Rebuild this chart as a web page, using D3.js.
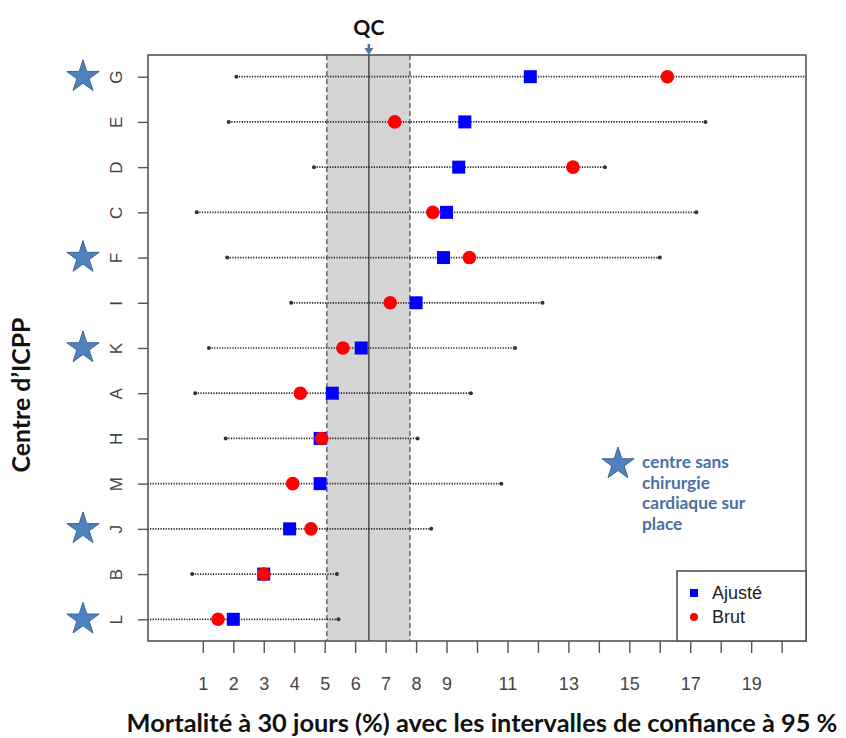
<!DOCTYPE html>
<html lang="fr">
<head>
<meta charset="utf-8">
<script src="https://cdn.jsdelivr.net/npm/d3@7/dist/d3.min.js"></script>
<style>
  html, body { margin: 0; padding: 0; background: #fff; }
  svg { display: block; }
</style>
</head>
<body>
<svg id="chart" width="846" height="738"></svg>
<script>
"use strict";

// ── Data (top row first) ─────────────────────────────────────────────────────
const centres  = ["G", "E", "D", "C", "F", "I", "K", "A", "H", "M", "J", "B", "L"];
const ajuste   = [11.75, 9.6, 9.4, 9.0, 8.9, 8.0, 6.2, 5.25, 4.85, 4.85, 3.85, 3.0, 2.0];
const brut     = [16.25, 7.3, 13.15, 8.55, 9.75, 7.15, 5.6, 4.2, 4.9, 3.95, 4.55, 3.0, 1.5];
const ciLow    = [2.1, 1.85, 4.65, 0.8, 1.8, 3.9, 1.2, 0.75, 1.75, -1.5, -1.5, 0.65, -1.5];
const ciHigh   = [22.0, 17.5, 14.2, 17.2, 16.0, 12.15, 11.25, 9.8, 8.05, 10.8, 8.5, 5.4, 5.45];
const sansChir = ["G", "F", "K", "J", "L"];
const xTicks   = d3.range(1, 21);
const xLabels  = [1, 2, 3, 4, 5, 6, 7, 8, 9, 11, 13, 15, 17, 19];
const qc       = { low: 5.07, mean: 6.45, high: 7.8 };

const rows = centres.map((c, i) => ({
  centre: c,
  pos: centres.length - i,
  ajuste: ajuste[i],
  brut: brut[i],
  lo: ciLow[i],
  hi: ciHigh[i]
}));

// ── Layout ───────────────────────────────────────────────────────────────────
const P = { left: 148, right: 806, top: 55, bottom: 641 };
const svg = d3.select("#chart");

const x = d3.scaleLinear().domain([-0.8, 20.8]).range([P.left, P.right]);
const y = d3.scaleLinear().domain([0.52, centres.length + 0.48]).range([P.bottom, P.top]);

const STAR_FILL = "#4f81bd";
const STAR_LINE = "#3b6796";

svg.append("defs").append("clipPath").attr("id", "plotClip")
  .append("rect")
  .attr("x", P.left).attr("y", P.top)
  .attr("width", P.right - P.left).attr("height", P.bottom - P.top);

// shrink/grow a text so it spans the width measured on the reference
function fitWidth(sel, target) {
  const fs = parseFloat(sel.attr("font-size"));
  const w = sel.node().getComputedTextLength();
  if (w > 0) sel.attr("font-size", (fs * target / w).toFixed(2));
}

// ── QC band ──────────────────────────────────────────────────────────────────
const band = svg.append("g");
band.append("rect")
  .attr("x", x(qc.low)).attr("y", P.top)
  .attr("width", x(qc.high) - x(qc.low))
  .attr("height", P.bottom - P.top)
  .attr("fill", "#d4d4d4");

[qc.low, qc.high].forEach(v => {
  band.append("line")
    .attr("x1", x(v)).attr("x2", x(v))
    .attr("y1", P.top).attr("y2", P.bottom)
    .attr("stroke", "#555").attr("stroke-width", 1.3)
    .attr("stroke-dasharray", "5,3");
});

band.append("line")
  .attr("x1", x(qc.mean)).attr("x2", x(qc.mean))
  .attr("y1", P.top).attr("y2", P.bottom)
  .attr("stroke", "#444").attr("stroke-width", 1.4);

// ── Confidence intervals ────────────────────────────────────────────────────
const ci = svg.append("g").attr("clip-path", "url(#plotClip)");

ci.selectAll(".ci-line")
  .data(rows)
  .join("line")
  .attr("class", "ci-line")
  .attr("x1", d => x(d.lo)).attr("x2", d => x(d.hi))
  .attr("y1", d => y(d.pos)).attr("y2", d => y(d.pos))
  .attr("stroke", "#222").attr("stroke-width", 1.7)
  .attr("stroke-dasharray", "1.2,1.4");

const ends = rows.flatMap(d => [{ v: d.lo, pos: d.pos }, { v: d.hi, pos: d.pos }]);
ci.selectAll(".ci-end")
  .data(ends)
  .join("circle")
  .attr("class", "ci-end")
  .attr("cx", d => x(d.v)).attr("cy", d => y(d.pos))
  .attr("r", 2)
  .attr("fill", "#333");

// ── Points ───────────────────────────────────────────────────────────────────
const SQ = 13;
svg.append("g").selectAll("rect")
  .data(rows)
  .join("rect")
  .attr("x", d => x(d.ajuste) - SQ / 2)
  .attr("y", d => y(d.pos) - SQ / 2)
  .attr("width", SQ).attr("height", SQ)
  .attr("fill", "#0000ff");

svg.append("g").selectAll("circle")
  .data(rows)
  .join("circle")
  .attr("cx", d => x(d.brut))
  .attr("cy", d => y(d.pos))
  .attr("r", 6.8)
  .attr("fill", "#ff0000");

// ── Frame ────────────────────────────────────────────────────────────────────
svg.append("rect")
  .attr("x", P.left).attr("y", P.top)
  .attr("width", P.right - P.left).attr("height", P.bottom - P.top)
  .attr("fill", "none").attr("stroke", "#555").attr("stroke-width", 1.6);

// ── X axis ───────────────────────────────────────────────────────────────────
const xAxis = svg.append("g")
  .attr("transform", `translate(0,${P.bottom})`)
  .call(d3.axisBottom(x)
    .tickValues(xTicks)
    .tickSize(12)
    .tickPadding(24)
    .tickFormat(d => xLabels.includes(d) ? d : ""));

xAxis.select(".domain").remove();
xAxis.selectAll(".tick line").attr("stroke", "#555").attr("stroke-width", 1.4);
xAxis.selectAll(".tick text")
  .attr("font-family", "'Liberation Sans', Arial, sans-serif")
  .attr("font-size", 18)
  .attr("fill", "#444");

// ── Y axis ───────────────────────────────────────────────────────────────────
const yAxis = svg.append("g")
  .attr("transform", `translate(${P.left},0)`)
  .call(d3.axisLeft(y)
    .tickValues(rows.map(d => d.pos))
    .tickSize(10)
    .tickPadding(0)
    .tickFormat(p => centres[centres.length - p]));

yAxis.select(".domain").remove();
yAxis.selectAll(".tick line").attr("stroke", "#555").attr("stroke-width", 1.4);
yAxis.selectAll(".tick text")
  .attr("x", null).attr("dy", null)
  .attr("transform", "translate(-32,0) rotate(-90)")
  .attr("text-anchor", "middle")
  .attr("dominant-baseline", "central")
  .attr("font-family", "'Liberation Sans', Arial, sans-serif")
  .attr("font-size", 17)
  .attr("fill", "#444");

// ── Stars: centres sans chirurgie ───────────────────────────────────────────
const star = d3.symbol().type(d3.symbolStar);
const starSize = R => R * R / 0.8908;

svg.append("g").selectAll("path")
  .data(rows.filter(d => sansChir.includes(d.centre)))
  .join("path")
  .attr("d", star.size(starSize(17))())
  .attr("transform", d => `translate(83,${y(d.pos)})`)
  .attr("fill", STAR_FILL)
  .attr("stroke", STAR_LINE).attr("stroke-width", 1);

// ── Titles ───────────────────────────────────────────────────────────────────
const qcLabel = svg.append("text")
  .attr("x", x(qc.mean)).attr("y", 35)
  .attr("text-anchor", "middle")
  .attr("font-family", "Lato, 'Open Sans', sans-serif")
  .attr("font-weight", "bold")
  .attr("font-size", 21)
  .attr("fill", "#111")
  .text("QC");
fitWidth(qcLabel, 31);

// small arrow pointing into the plot at QC mean
svg.append("line")
  .attr("x1", x(qc.mean)).attr("x2", x(qc.mean))
  .attr("y1", 44).attr("y2", 50)
  .attr("stroke", "#4a77a8").attr("stroke-width", 2.5);
svg.append("path")
  .attr("d", `M${x(qc.mean) - 4.5},48 L${x(qc.mean) + 4.5},48 L${x(qc.mean)},55 Z`)
  .attr("fill", "#4a77a8");

const xTitle = svg.append("text")
  .attr("x", 482).attr("y", 732)
  .attr("text-anchor", "middle")
  .attr("font-family", "Lato, 'Open Sans', sans-serif")
  .attr("font-weight", "bold")
  .attr("font-size", 21)
  .attr("fill", "#111")
  .text("Mortalité à 30 jours (%) avec les intervalles de confiance à 95 %");
fitWidth(xTitle, 711);

const yTitle = svg.append("text")
  .attr("transform", "translate(30,395) rotate(-90)")
  .attr("text-anchor", "middle")
  .attr("font-family", "Lato, 'Open Sans', sans-serif")
  .attr("font-weight", "bold")
  .attr("font-size", 19)
  .attr("fill", "#111")
  .text("Centre d’ICPP");
fitWidth(yTitle, 155);

// ── Note: star meaning ───────────────────────────────────────────────────────
const note = svg.append("g");
note.append("path")
  .attr("d", star.size(starSize(17))())
  .attr("transform", "translate(618,464)")
  .attr("fill", STAR_FILL)
  .attr("stroke", STAR_LINE).attr("stroke-width", 1);

const noteLines = ["centre sans", "chirurgie", "cardiaque sur", "place"];
const noteText = note.append("text")
  .attr("font-family", "Lato, 'Open Sans', sans-serif")
  .attr("font-weight", "bold")
  .attr("font-size", 14)
  .attr("fill", "#4a6fa5");
noteText.selectAll("tspan")
  .data(noteLines)
  .join("tspan")
  .attr("x", 642)
  .attr("y", (_, i) => 468 + i * 20.7)
  .text(d => d);

// fit on the first line, apply to all
const first = noteText.select("tspan").node();
const w0 = first.getComputedTextLength();
if (w0 > 0) noteText.attr("font-size", (14 * 87 / w0).toFixed(2));

// ── Legend ───────────────────────────────────────────────────────────────────
const leg = svg.append("g");
leg.append("rect")
  .attr("x", 677).attr("y", 571)
  .attr("width", P.right - 677).attr("height", P.bottom - 571)
  .attr("fill", "#fff").attr("stroke", "#555").attr("stroke-width", 1.6);

const legItems = [
  { label: "Ajusté", color: "#0000ff", shape: "square" },
  { label: "Brut", color: "#ff0000", shape: "circle" }
];

const li = leg.selectAll(".legend-item")
  .data(legItems)
  .join("g")
  .attr("class", "legend-item")
  .attr("transform", (_, i) => `translate(694,${593 + i * 24})`);

li.filter(d => d.shape === "square").append("rect")
  .attr("x", -4).attr("y", -4).attr("width", 8).attr("height", 8)
  .attr("fill", d => d.color);
li.filter(d => d.shape === "circle").append("circle")
  .attr("r", 4)
  .attr("fill", d => d.color);

li.append("text")
  .attr("x", 18)
  .attr("dy", "0.36em")
  .attr("font-family", "'Liberation Sans', Arial, sans-serif")
  .attr("font-size", 18)
  .attr("fill", "#222")
  .text(d => d.label);
</script>
</body>
</html>
